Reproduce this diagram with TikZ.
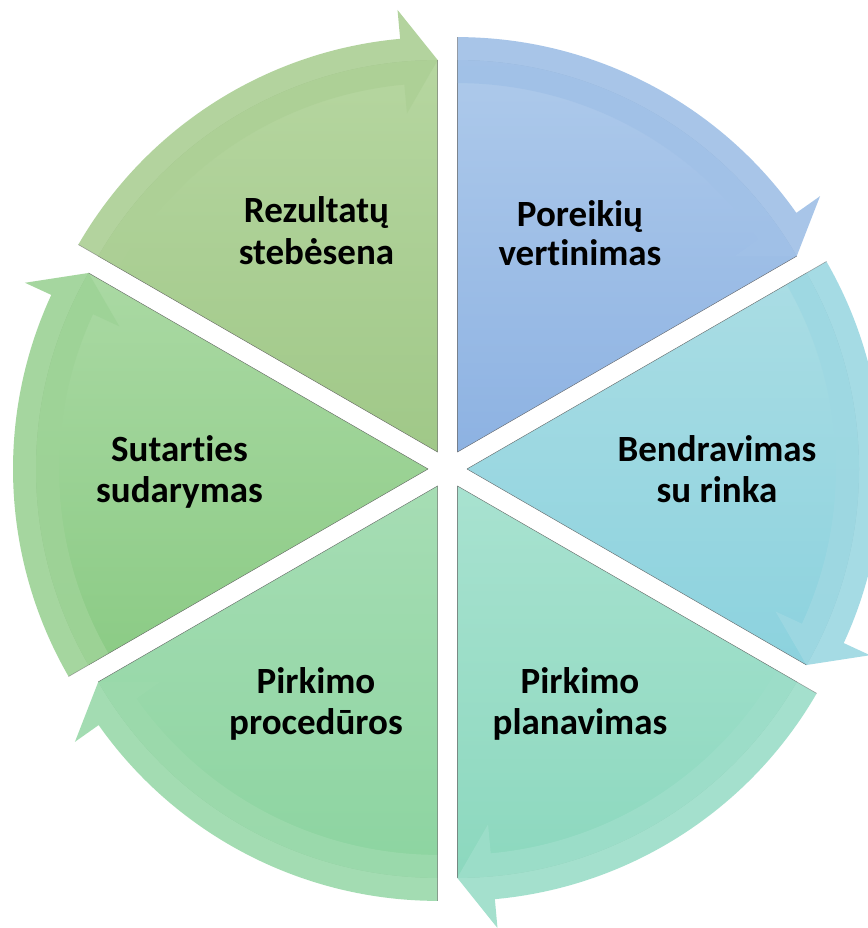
\documentclass[tikz,border=0pt]{standalone}
\usepackage{fontspec}
\setmainfont{Carlito}[RawFeature={-liga;-clig;-calt;-dlig}]
\usetikzlibrary{calc}
\definecolor{bluT}{HTML}{AECAEB}\definecolor{bluB}{HTML}{8DB2E2}
\definecolor{tealT}{HTML}{AADDE4}\definecolor{tealB}{HTML}{8CD2DE}
\definecolor{mintT}{HTML}{A8E2D0}\definecolor{mintB}{HTML}{8CD8BE}
\definecolor{procT}{HTML}{A6DDB4}\definecolor{procB}{HTML}{8CD4A0}
\definecolor{sutT}{HTML}{AAD9A3}\definecolor{sutB}{HTML}{8BCB85}
\definecolor{rezT}{HTML}{B6D6A0}\definecolor{rezB}{HTML}{A0C888}
\tikzset{
  lbl/.style={font=\bfseries\fontsize{37}{41}\selectfont, anchor=base, inner sep=0pt, text=black},
  segedge/.style={draw=black!55, line width=0.6pt, draw opacity=0.6},
  band/.style={fill opacity=0.92}
}
\newcommand\mysegment[5]{% #1 start angle, #2 top, #3 bottom, #4 band colour, #5 name
  \pgfmathsetmacro\segB{#1-30}
  \pgfmathsetmacro\segE{#1-60}
  \pgfmathsetmacro\segH{#1-60+5.2}
  \coordinate (#5) at ($(447.5,459)+(\segB:19.5)$);
  \begin{scope}[shift={(#5)}]
    \fill[top color=#2, bottom color=#3] (0,0) -- (#1:392) arc[start angle=#1, end angle=\segE, radius=392] -- cycle;
    \fill[band, #4] (#1:415) arc[start angle=#1, end angle=\segH, radius=415]
      -- (\segH:444) -- (\segE:392) -- (\segH:340) -- (\segH:369)
      arc[start angle=\segH, end angle=#1, radius=369] -- cycle;
    \path[segedge] (0,0) -- (#1:415);
    \path[segedge] (0,0) -- (\segE:392);
  \end{scope}
}
\begin{document}
\begin{tikzpicture}[x=1pt,y=1pt]
\useasboundingbox (0,0) rectangle (867,928);
\fill[white] (0,0) rectangle (867,928);
\mysegment{90}{bluT}{bluB}{bluT!60!bluB}{sA}
\mysegment{30}{tealT}{tealB}{tealT!60!tealB}{sB}
\mysegment{-30}{mintT}{mintB}{mintT!60!mintB}{sC}
\mysegment{-90}{procT}{procB}{procT!60!procB}{sD}
\mysegment{-150}{sutT}{sutB}{sutT!60!sutB}{sE}
\mysegment{150}{rezT}{rezB}{rezT!60!rezB}{sF}

\node[lbl] (rez1) at (316.5,705) {Rezultatų};
\node[lbl] (rez2) at (316.5,663) {stebėsena};
\node[lbl] (por1) at (580,701) {Poreikių};
\node[lbl] (por2) at (580,662) {vertinimas};
\node[lbl] (ben1) at (717,466) {Bendravimas};
\node[lbl] (ben2) at (717,425) {su rinka};
\node[lbl] (sut1) at (179.5,466) {Sutarties};
\node[lbl] (sut2) at (179.5,425) {sudarymas};
\node[lbl] (pp1) at (580,234) {Pirkimo};
\node[lbl] (pp2) at (580,193) {planavimas};
\node[lbl] (pr1) at (316,234) {Pirkimo};
\node[lbl] (pr2) at (316,193) {procedūros};
\end{tikzpicture}
\end{document}
